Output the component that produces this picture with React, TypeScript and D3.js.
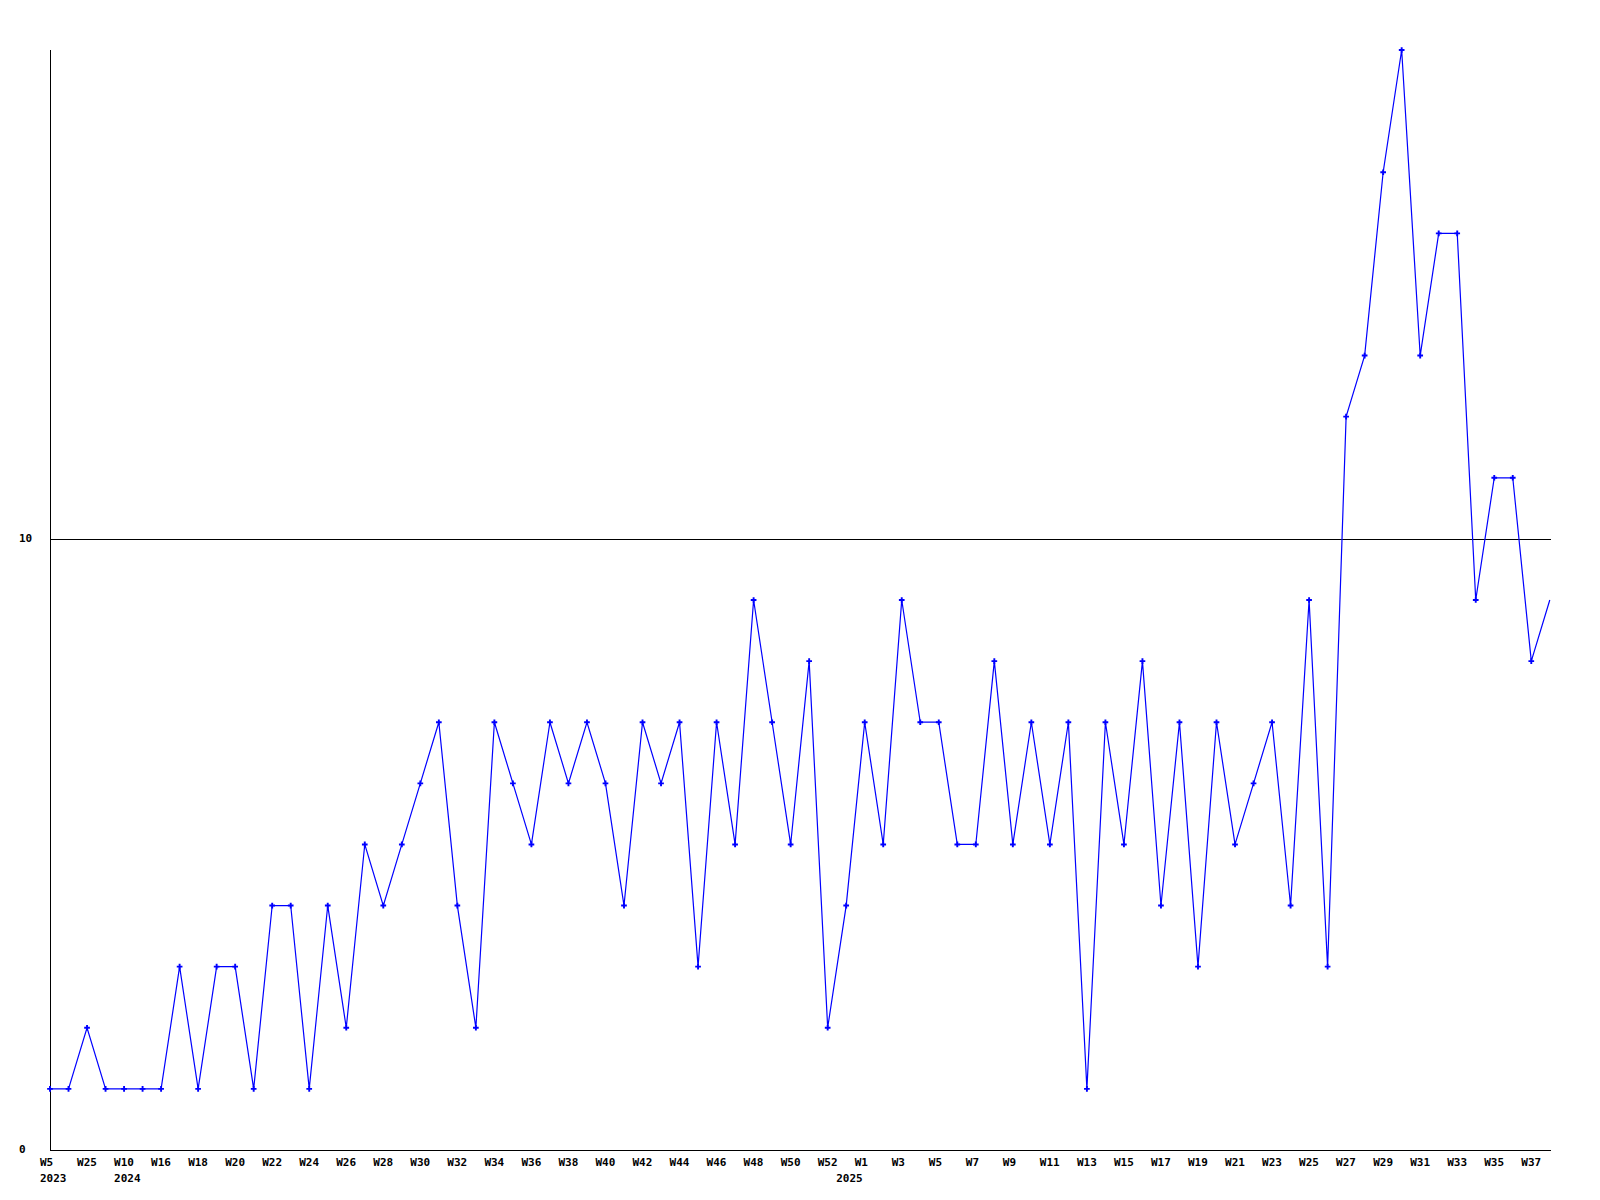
import * as d3 from 'd3';

// weekly counts, one per week in order
const values = [
  1, 1, 2, 1, 1, 1, 1, 3, 1, 3, 3, 1, 4, 4, 1, 4, 2, 5, 4, 5,
  6, 7, 4, 2, 7, 6, 5, 7, 6, 7, 6, 4, 7, 6, 7, 3, 7, 5, 9, 7,
  5, 8, 2, 4, 7, 5, 9, 7, 7, 5, 5, 8, 5, 7, 5, 7, 1, 7, 5, 8,
  4, 7, 3, 7, 5, 6, 7, 4, 9, 3, 12, 13, 16, 18, 13, 15, 15, 9, 11, 11,
  8, 9,
];

// labels shown on every second week
const weekTicks = [
  'W5', 'W25', 'W10', 'W16', 'W18', 'W20', 'W22', 'W24', 'W26', 'W28',
  'W30', 'W32', 'W34', 'W36', 'W38', 'W40', 'W42', 'W44', 'W46', 'W48',
  'W50', 'W52', 'W1', 'W3', 'W5', 'W7', 'W9', 'W11', 'W13', 'W15',
  'W17', 'W19', 'W21', 'W23', 'W25', 'W27', 'W29', 'W31', 'W33', 'W35',
  'W37',
];

const yearLabels = ['2023', '2024', '2025'];
const yearAt = [0, 4, 43];

const yTicks = [0, 10];

const W = 1600;
const H = 1200;
const left = 50;
const right = 1551;
const top = 50;
const bottom = 1150;
const font = '"DejaVu Sans Mono", "Liberation Mono", monospace';

export default function App() {
  const x = d3
    .scalePoint<number>()
    .domain(d3.range(values.length))
    .range([left, 1549.8]);

  const y = d3.scaleLinear().domain([0, 18]).range([bottom, top]);

  const line = d3
    .line<number>()
    .x((_, i) => x(i)!)
    .y((d) => y(d));

  const marker = d3.symbol(d3.symbolCross, 18)()!;

  return (
    <svg
      width={W}
      height={H}
      style={{ position: 'absolute', left: 0, top: 0, background: '#fff' }}
    >
      {/* grid lines */}
      {yTicks
        .filter((t) => t > 0)
        .map((t) => (
          <line
            key={'g' + t}
            x1={left}
            x2={right}
            y1={Math.round(y(t)) + 0.5}
            y2={Math.round(y(t)) + 0.5}
            stroke="#000"
            shapeRendering="crispEdges"
          />
        ))}

      {/* axes */}
      <line x1={left + 0.5} x2={left + 0.5} y1={top} y2={bottom} stroke="#000" shapeRendering="crispEdges" />
      <line x1={left} x2={right} y1={bottom + 0.5} y2={bottom + 0.5} stroke="#000" shapeRendering="crispEdges" />

      {/* y labels */}
      {yTicks.map((t) => (
        <text
          key={'y' + t}
          x={19}
          y={y(t)}
          dominantBaseline="middle"
          fontFamily={font}
          fontWeight="bold"
          fontSize={11}
          fill="#000"
        >
          {t}
        </text>
      ))}

      {/* x labels */}
      {weekTicks.map((w, k) => (
        <text
          key={'x' + k}
          x={x(k * 2)! - 10}
          y={1166}
          fontFamily={font}
          fontWeight="bold"
          fontSize={11}
          fill="#000"
        >
          {w}
        </text>
      ))}
      {yearLabels.map((yr, k) => (
        <text
          key={'yr' + k}
          x={x(yearAt[k])! - 10}
          y={1182}
          fontFamily={font}
          fontWeight="bold"
          fontSize={11}
          fill="#000"
        >
          {yr}
        </text>
      ))}

      {/* series */}
      <path d={line(values) ?? ''} fill="none" stroke="#0000ff" strokeWidth={1.2} />
      {values.slice(0, -1).map((v, i) => (
        <path
          key={'m' + i}
          d={marker}
          transform={`translate(${x(i)},${y(v)})`}
          fill="#0000ff"
        />
      ))}
    </svg>
  );
}
